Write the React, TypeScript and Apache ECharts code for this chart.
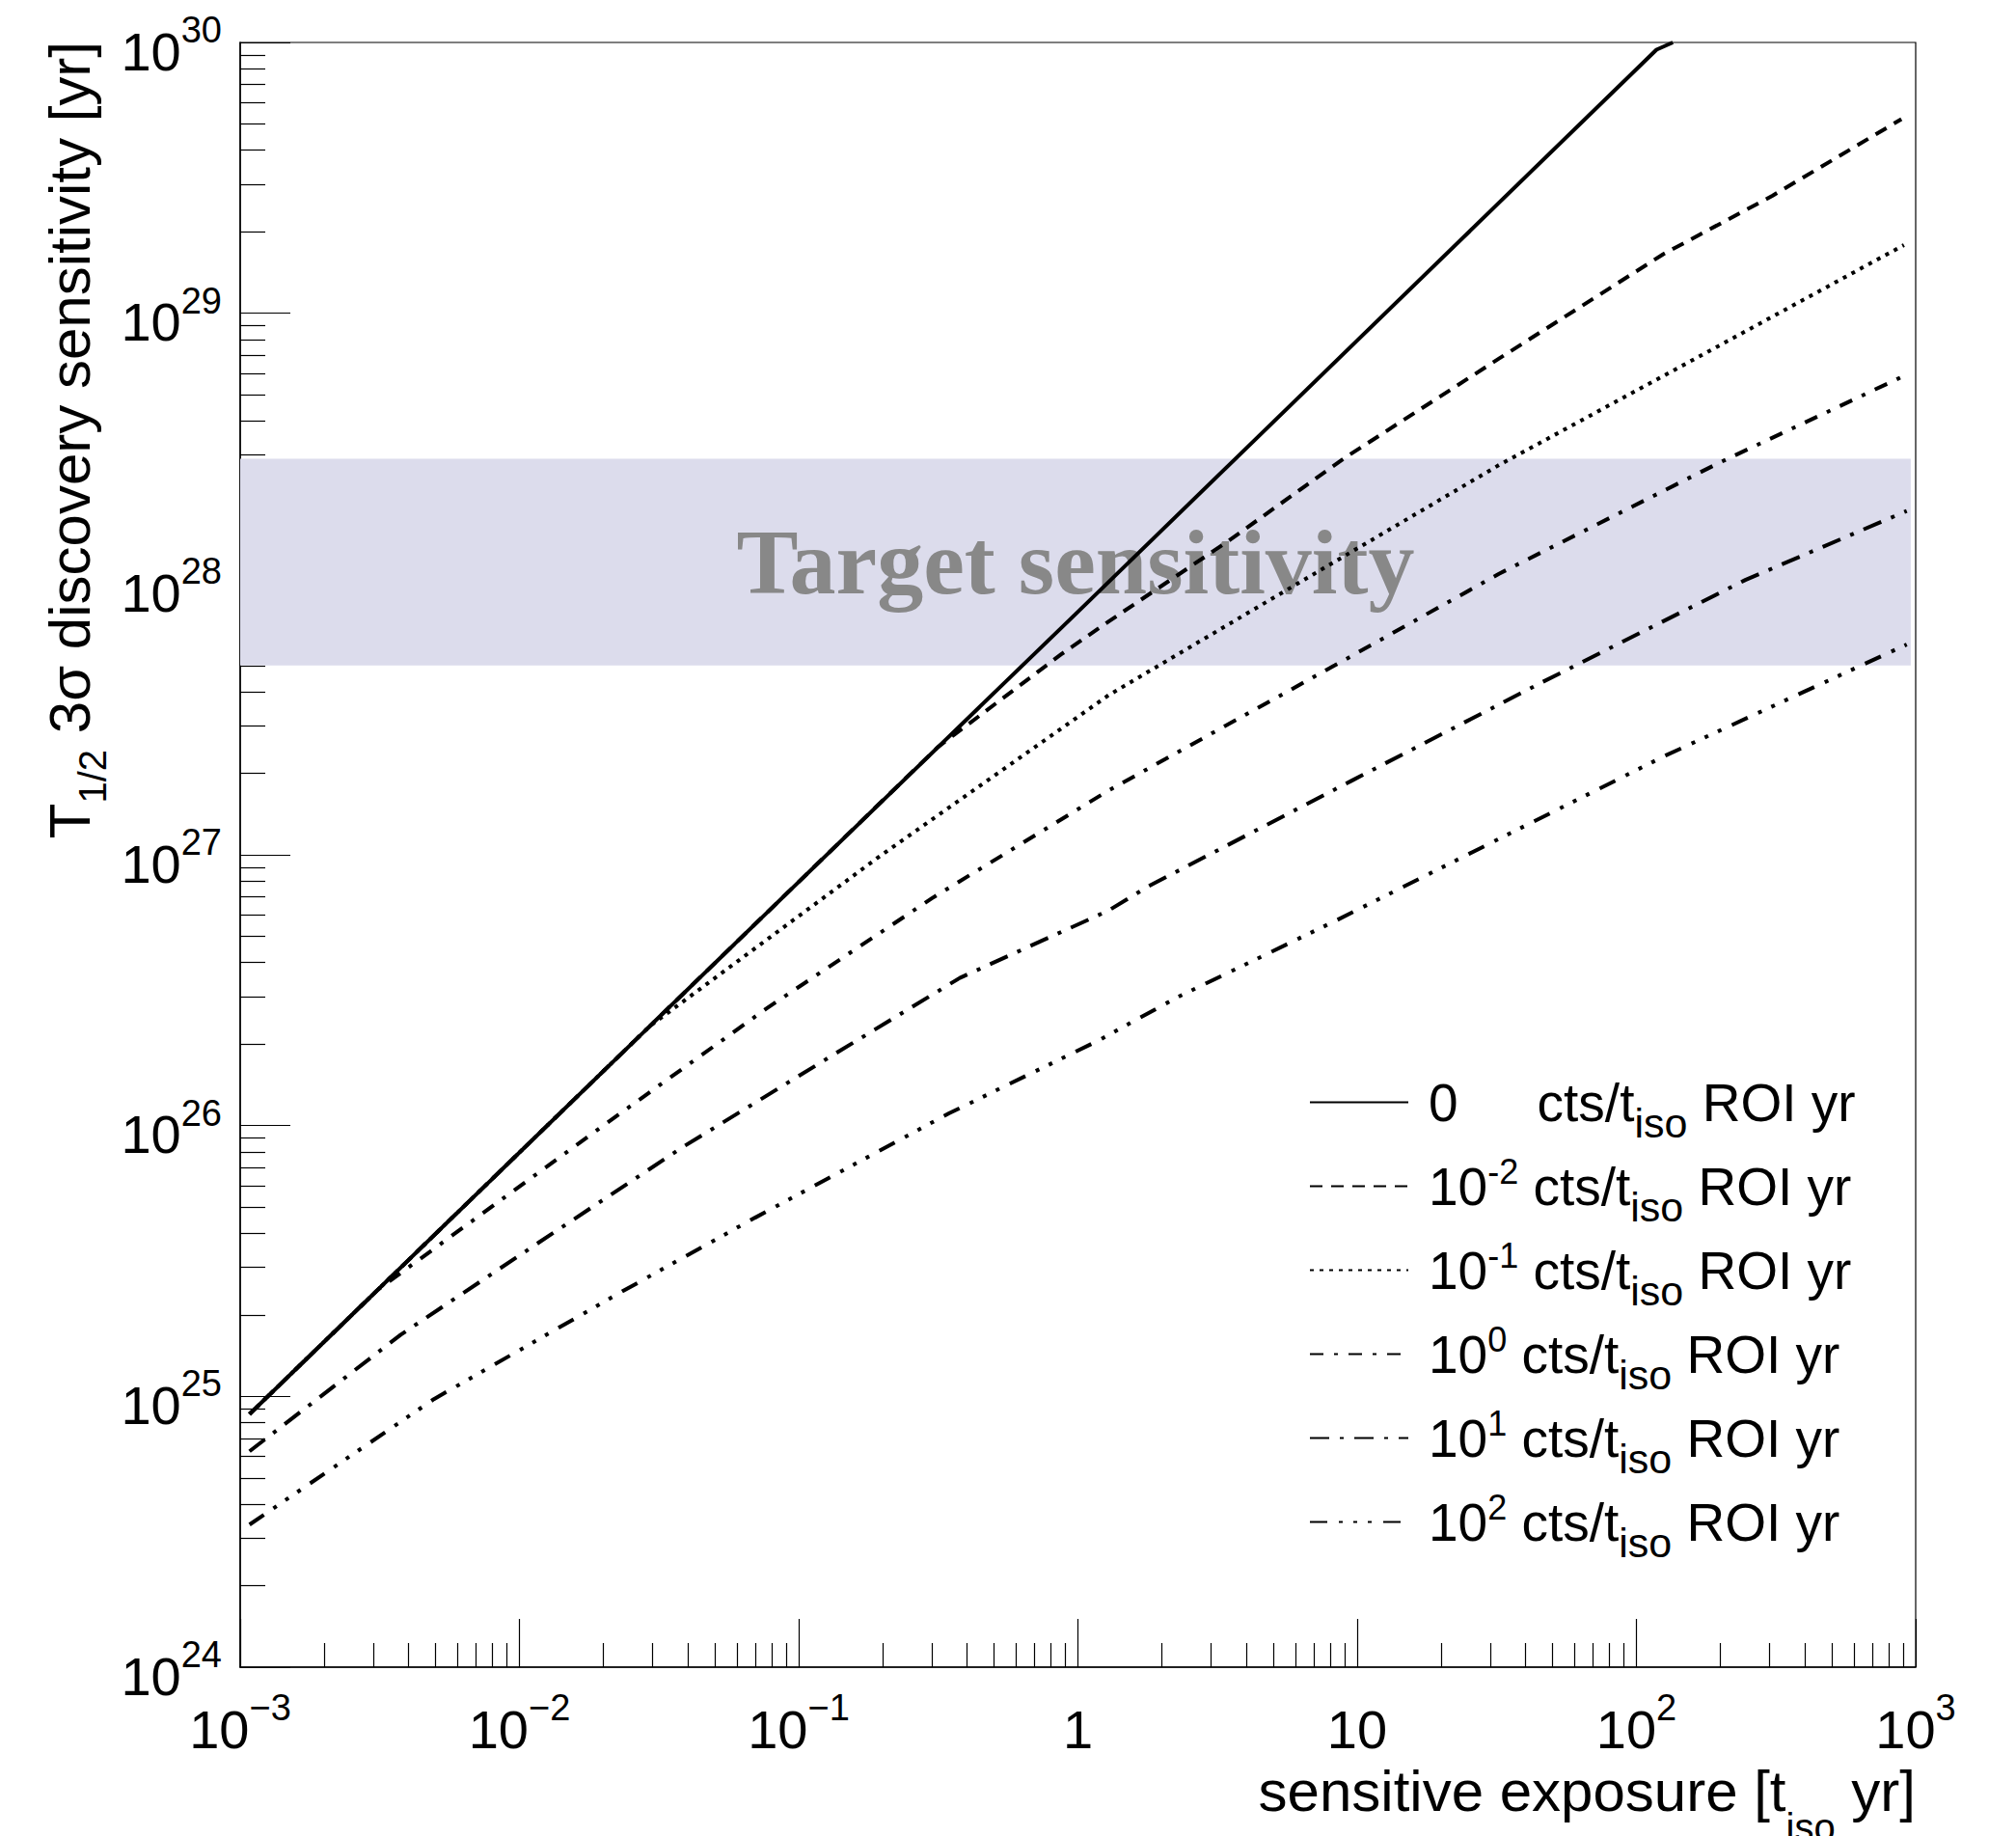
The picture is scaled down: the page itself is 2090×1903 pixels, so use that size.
import React, { useEffect, useRef } from 'react';
import * as echarts from 'echarts';

const FONT = '"Liberation Sans", Arial, Helvetica, sans-serif';
const SERIF = '"Liberation Serif", "Times New Roman", serif';

// ---- axes ----
const xRange = [1e-3, 1e3];
const yRange = [1e24, 1e30];
const xMajorTicks = [1e-3, 1e-2, 1e-1, 1, 10, 100, 1000];
const xTickBase = ['10', '10', '10', '1', '10', '10', '10'];
const xTickExp = ['\u22123', '\u22122', '\u22121', '', '', '2', '3'];
const yMajorTicks = [1e24, 1e25, 1e26, 1e27, 1e28, 1e29, 1e30];
const yTickBase = ['10', '10', '10', '10', '10', '10', '10'];
const yTickExp = ['24', '25', '26', '27', '28', '29', '30'];
const minorMultipliers = [2, 3, 4, 5, 6, 7, 8, 9];

// ---- legend ----
const seriesNames = ['b0', 'b1e-2', 'b1e-1', 'b1e0', 'b1e1', 'b1e2'];
const legendBase = ['0', '10', '10', '10', '10', '10'];
const legendExp = ['', '-2', '-1', '0', '1', '2'];

// ---- data: exposure [t_iso yr] vs sensitivity [yr] ----
const exposure0 = [1.08e-3, 0.0293, 1.0, 118, 135];
const sens0 = [8.6e24, 2.33e26, 7.9e27, 9.4e29, 1.0e30];

const exposure1 = [1.08e-3, 0.0293, 0.315, 0.871, 1.285, 3.37, 9.1, 32.2, 124.7, 307.6, 889];
const sens1 = [8.6e24, 2.33e26, 2.5e27, 5.5e27, 7.26e27, 1.416e28, 2.94e28, 6.8e28, 1.652e29, 2.72e29, 5.21e29];

const exposure2 = [1.08e-3, 0.0293, 0.1905, 1.285, 5.3, 32.2, 195.9, 907.8];
const sens2 = [8.6e24, 2.33e26, 9.7e26, 3.88e27, 9.2e27, 2.75e28, 7.55e28, 1.786e29];

const exposure3 = [1.08e-3, 3.13e-3, 0.01858, 0.0764, 0.3006, 1.285, 8.32, 32.2, 195.9, 889];
const sens3 = [8.6e24, 2.49e25, 9.48e25, 2.7e26, 6.92e26, 1.726e27, 5.01e27, 1.091e28, 2.79e28, 5.81e28];

const exposure4 = [1.08e-3, 3.76e-3, 0.01178, 0.0385, 0.1384, 0.3776, 1.285, 1.791, 9.53, 46.2, 245.5, 929];
const sens4 = [6.27e24, 1.69e25, 3.71e25, 8.34e25, 1.871e26, 3.51e26, 6.22e26, 7.66e26, 1.875e27, 4.35e27, 1.035e28, 1.862e28];

const exposure5 = [1.08e-3, 4.94e-3, 0.02333, 0.0698, 0.345, 1.183, 2.244, 8.32, 25.1, 127.6, 929];
const sens5 = [3.36e24, 9.77e24, 2.44e25, 4.57e25, 1.109e26, 2.06e26, 2.96e26, 5.69e26, 1.007e27, 2.33e27, 5.98e27];

const exposures = [exposure0, exposure1, exposure2, exposure3, exposure4, exposure5];
const sensitivities = [sens0, sens1, sens2, sens3, sens4, sens5];

const dashPatterns: (number[] | 'solid')[] = [
  'solid',
  [13, 9],
  [4, 6],
  [14, 11, 4, 11],
  [20, 11, 4, 11],
  [18, 12, 4, 11, 4, 11, 4, 12],
];

// ---- target band ----
const bandLow = 5e27;
const bandHigh = 2.9e28;
const bandXStart = 1e-3;
const bandXEnd = 960;
const bandLabel = 'Target sensitivity';

const xMinorTicks: number[] = [];
xMajorTicks.slice(0, -1).forEach((d) => minorMultipliers.forEach((m) => xMinorTicks.push(m * d)));
const yMinorTicks: number[] = [];
yMajorTicks.slice(0, -1).forEach((d) => minorMultipliers.forEach((m) => yMinorTicks.push(m * d)));
// nudge the end values a hair inside the extent so they are not filtered by float error
const inside = (vals: number[]) => vals.map((v, i) => (i === 0 ? v * (1 + 1e-9) : i === vals.length - 1 ? v * (1 - 1e-9) : v));

const tickRich = {
  b: { fontSize: 56, fontFamily: FONT, color: '#000', padding: [18, 0, 0, 0] },
  e: { fontSize: 38, fontFamily: FONT, color: '#000', padding: [0, 0, 26, 0] },
};

function fmtTick(bases: string[], exps: string[], first: number) {
  return (v: number) => {
    const i = Math.round(Math.log10(v)) - first;
    if (i < 0 || i >= bases.length) return '';
    return exps[i] ? `{b|${bases[i]}}{e|${exps[i]}}` : `{b|${bases[i]}}`;
  };
}

export default function App() {
  const ref = useRef<HTMLDivElement>(null);
  useEffect(() => {
    if (!ref.current) return;
    const chart = echarts.init(ref.current, null, { renderer: 'svg' });

    const series: any[] = exposures.map((xs, i) => ({
      name: seriesNames[i],
      type: 'line',
      data: xs.map((x, j) => [x, sensitivities[i][j]]),
      symbol: 'none',
      showSymbol: false,
      silent: true,
      clip: true,
      z: 5,
      itemStyle: { color: '#000' },
      lineStyle: { color: '#000', width: 4, type: dashPatterns[i], cap: 'butt' },
    }));
    series[0].markArea = {
      silent: true,
      z: 1,
      itemStyle: { color: '#dcdcec', opacity: 1, borderWidth: 0 },
      label: {
        show: true,
        position: 'inside',
        color: '#888888',
        fontFamily: SERIF,
        fontWeight: 'bold',
        fontSize: 96,
      },
      data: [[{ name: bandLabel, coord: [bandXStart, bandLow] }, { coord: [bandXEnd, bandHigh] }]],
    };

    const axisCommon = { type: 'log', logBase: 10, splitLine: { show: false }, minorTick: { show: false }, minorSplitLine: { show: false } };
    const LH = 84;

    const option: any = {
      animation: false,
      backgroundColor: '#ffffff',
      grid: {
        left: 249, top: 44, right: 104, bottom: 175,
        show: true, borderColor: '#000', borderWidth: 1.2,
        containLabel: false, outerBoundsMode: 'none',
      },
      xAxis: [
        {
          ...axisCommon, min: xRange[0], max: xRange[1], position: 'bottom',
          axisLine: { show: true, onZero: false, lineStyle: { color: '#000', width: 1.5 } },
          axisTick: { show: true, inside: true, length: 50, lineStyle: { color: '#000', width: 1.2 }, customValues: inside(xMajorTicks) },
          axisLabel: { show: true, customValues: inside(xMajorTicks), margin: 18, formatter: fmtTick(xTickBase, xTickExp, -3), rich: tickRich },
        },
        {
          ...axisCommon, min: xRange[0], max: xRange[1], position: 'bottom',
          axisLine: { show: false, onZero: false },
          axisTick: { show: true, inside: true, length: 25, lineStyle: { color: '#000', width: 1.2 }, customValues: xMinorTicks },
          axisLabel: { show: false },
        },
      ],
      yAxis: [
        {
          ...axisCommon, min: yRange[0], max: yRange[1], position: 'left',
          axisLine: { show: true, onZero: false, lineStyle: { color: '#000', width: 1.5 } },
          axisTick: { show: true, inside: true, length: 52, lineStyle: { color: '#000', width: 1.2 }, customValues: inside(yMajorTicks) },
          axisLabel: { show: true, customValues: inside(yMajorTicks), margin: 19, formatter: fmtTick(yTickBase, yTickExp, 24), rich: tickRich },
        },
        {
          ...axisCommon, min: yRange[0], max: yRange[1], position: 'left',
          axisLine: { show: false, onZero: false },
          axisTick: { show: true, inside: true, length: 26, lineStyle: { color: '#000', width: 1.2 }, customValues: yMinorTicks },
          axisLabel: { show: false },
        },
      ],
      legend: {
        show: true,
        orient: 'vertical',
        left: 1357,
        top: 1100,
        padding: 0,
        itemGap: 2,
        itemWidth: 102,
        itemHeight: 20,
        selectedMode: false,
        data: seriesNames,
        itemStyle: { opacity: 0, color: 'rgba(0,0,0,0)', borderWidth: 0 },
        formatter: (name: string) => {
          const i = seriesNames.indexOf(name);
          const head = legendExp[i]
            ? `{m|${legendBase[i]}}{p|${legendExp[i]}}{m|\u00a0cts/t}`
            : `{m|${legendBase[i]}}{w|\u00a0}{m|cts/t}`;
          return `${head}{s|iso}{m|\u00a0ROI yr}`;
        },
        textStyle: {
          fontFamily: FONT,
          fontSize: 55,
          color: '#000',
          padding: [0, 0, 0, 16],
          lineHeight: LH,
          rich: {
            m: { fontSize: 55, fontFamily: FONT, color: '#000', lineHeight: LH },
            w: { fontSize: 55, fontFamily: FONT, width: 82, lineHeight: LH },
            p: { fontSize: 36, fontFamily: FONT, color: '#000', padding: [0, 0, 30, 0], lineHeight: LH },
            s: { fontSize: 43, fontFamily: FONT, color: '#000', padding: [42, 0, 0, 0], lineHeight: LH },
          },
        },
      },
      graphic: [
        {
          type: 'text',
          x: 1986,
          y: 1856,
          silent: true,
          style: {
            text: '{m|sensitive exposure [t}{s|iso}{m| yr]}',
            align: 'right', textAlign: 'right',
            verticalAlign: 'middle', textVerticalAlign: 'middle',
            rich: {
              m: { fontSize: 60, fontFamily: FONT, fill: '#000' },
              s: { fontSize: 40, fontFamily: FONT, fill: '#000', padding: [76, 0, 0, 0] },
            },
          },
        },
        {
          type: 'text',
          x: 72,
          y: 43,
          rotation: Math.PI / 2,
          silent: true,
          style: {
            text: '{m|T}{s|1/2}{m| 3\u03c3 discovery sensitivity [yr]}',
            align: 'right', textAlign: 'right',
            verticalAlign: 'middle', textVerticalAlign: 'middle',
            rich: {
              m: { fontSize: 60, fontFamily: FONT, fill: '#000' },
              s: { fontSize: 40, fontFamily: FONT, fill: '#000', padding: [48, 0, 0, 0] },
            },
          },
        },
      ],
      series,
    };

    chart.setOption(option);
    return () => chart.dispose();
  }, []);

  return (
    <div
      ref={ref}
      style={{ position: 'fixed', left: 0, top: 0, width: 2090, height: 1903, background: '#fff' }}
    />
  );
}
